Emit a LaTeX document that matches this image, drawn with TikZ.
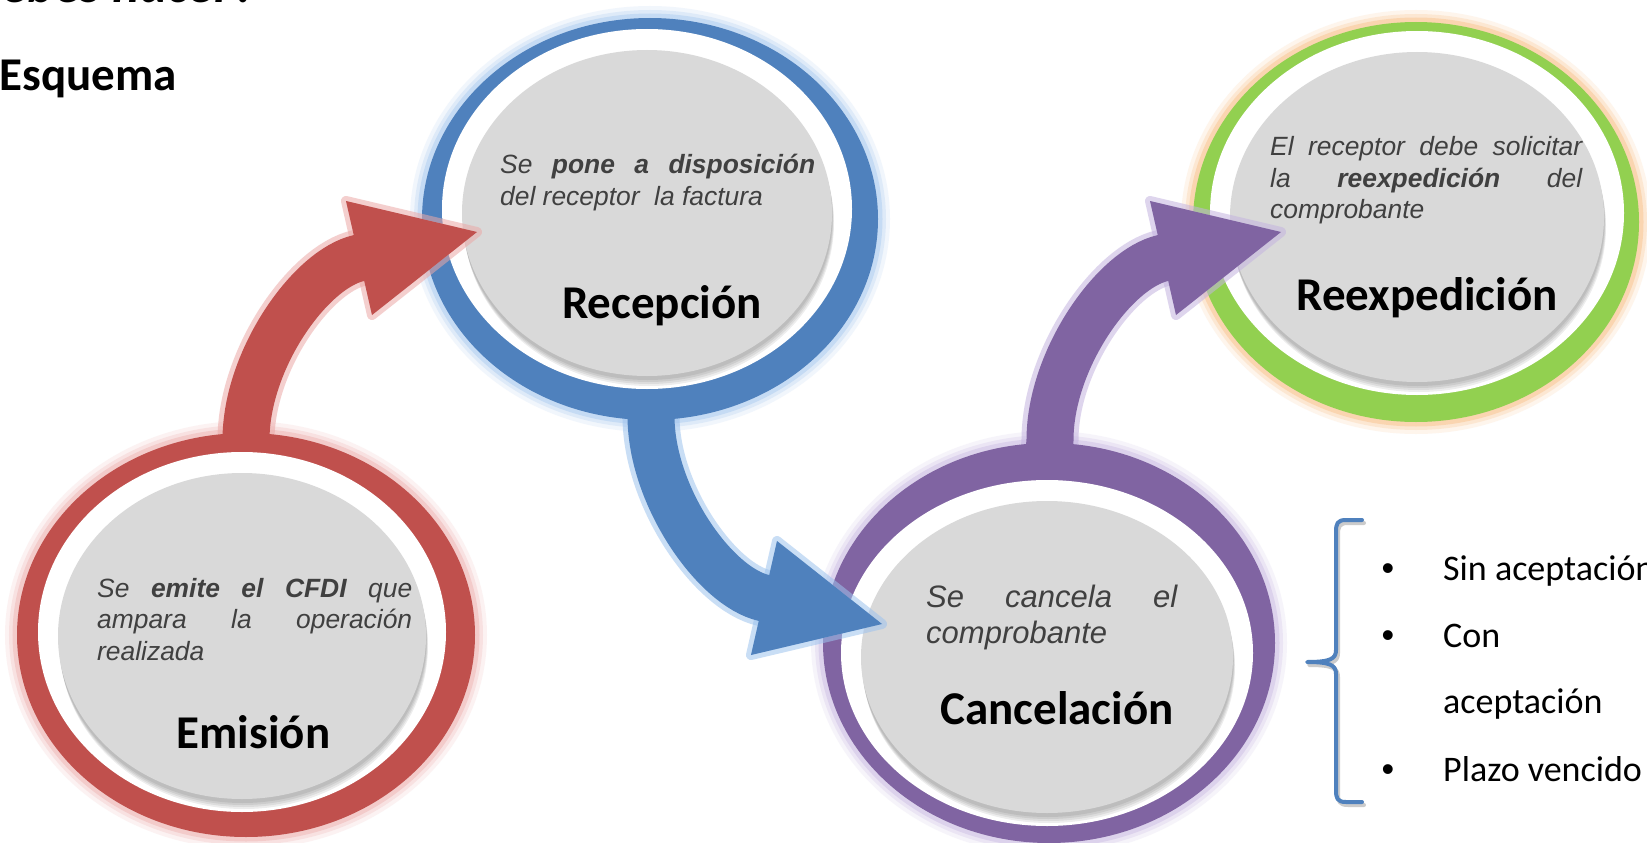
\documentclass[tikz,border=0pt]{standalone}
\usepackage{fontspec}
\usetikzlibrary{shapes.geometric,calc}
\newfontfamily\arialf{Liberation Sans}
\newfontfamily\calib{Carlito}
\definecolor{cred}{HTML}{C0504D}
\definecolor{cblue}{HTML}{4F81BD}
\definecolor{cpurple}{HTML}{8064A2}
\definecolor{cgreen}{HTML}{92D050}
\definecolor{gred}{HTML}{EBA9A7}
\definecolor{gblue}{HTML}{9DC3EE}
\definecolor{gpurple}{HTML}{C4B4E0}
\definecolor{ggreen}{HTML}{F9B97A}
\definecolor{disk}{HTML}{D9D9D9}
\definecolor{txtgray}{HTML}{404040}
\tikzset{
 ringnode/.style={ellipse, inner sep=0pt, outer sep=0pt},
 shaft/.style={line width=47pt},
 shaftglow/.style={line width=57pt, opacity=0.55},
 headglow/.style={line width=10pt, line join=round, opacity=0.55},
 desc/.style={anchor=base west, inner sep=0pt, text=txtgray, font=\arialf\itshape\fontsize{26.4}{31.7}\selectfont},
 descbig/.style={desc, font=\arialf\itshape\fontsize{31}{36}\selectfont},
 ttl/.style={anchor=base, inner sep=0pt, font=\calib\bfseries\fontsize{47}{56}\selectfont},
 listitem/.style={anchor=base west, inner sep=0pt, font=\calib\fontsize{36}{43}\selectfont},
 bul/.style={anchor=base, inner sep=0pt, font=\arialf\fontsize{36}{43}\selectfont},
 bracestyle/.style={line width=4pt, line cap=round, line join=round},
}
\newcommand\glowring[4]{%
 \foreach \gw/\go in {24/0.14,16/0.22,9/0.38}{\draw[#4, line width=\gw pt, opacity=\go] #1 ellipse [x radius=#2pt, y radius=#3pt];}}
\newcommand\ringbody[7]{%
 \fill[#4] #1 ellipse [x radius=#2pt, y radius=#3pt];
 \pgfmathsetmacro\wrx{#6+20}\pgfmathsetmacro\wry{#7+17}%
 \fill[white] ($#5+(0,-4)$) ellipse [x radius={\wrx pt}, y radius={\wry pt}];
 \foreach \sy/\sx in {10/2,8/1.5,6/1,4/0.5}{\fill[black, opacity=0.07] ($#5+(\sx,\sy)$) ellipse [x radius=#6pt, y radius=#7pt];}
 \fill[disk] #5 ellipse [x radius=#6pt, y radius=#7pt];}
\begin{document}
\begin{tikzpicture}[x=1pt,y=-1pt]
\useasboundingbox (0,0) rectangle (1647,843);
\fill[white] (0,0) rectangle (1647,843);
\path (246,635) node[ringnode, minimum width=458pt, minimum height=404pt] (emi) {}
      (650,219) node[ringnode, minimum width=456pt, minimum height=402pt] (rec) {}
      (1049,643) node[ringnode, minimum width=452pt, minimum height=400pt] (can) {}
      (1416,222) node[ringnode, minimum width=446pt, minimum height=400pt] (ree) {};
\coordinate (emiG) at ($(emi.center)+(-4,1)$);
\coordinate (recG) at ($(rec.center)+(-3,-6)$);
\coordinate (canG) at ($(can.center)+(-2,14)$);
\coordinate (reeG) at ($(ree.center)+(1,-5)$);
% Reexpedicion
\glowring{(ree.center)}{223}{200}{ggreen}
\ringbody{(ree.center)}{223}{200}{cgreen}{(reeG)}{187}{165}
% Cancelacion glow
\glowring{(can.center)}{226}{200}{gpurple}
% purple arrow
\coordinate (pP) at (1050,440);
\begin{scope}[shift={(pP)}]
 \coordinate (pC1) at (0,-80); \coordinate (pC2) at (64,-171); \coordinate (pB) at (113,-182);
 \coordinate (pB2) at (116,-182.7);
 \coordinate (pT) at (231,-208); \coordinate (pU) at (100,-239); \coordinate (pL) at (126,-125);
\end{scope}
\draw[gpurple, shaftglow] ($(can.north)+(0,10)$) -- (pP) .. controls (pC1) and (pC2) .. (pB) -- (pB2);
\draw[gpurple, headglow, fill=gpurple] (pU) -- (pT) -- (pL) -- cycle;
\draw[cpurple, shaft] ($(can.north)+(0,10)$) -- (pP) .. controls (pC1) and (pC2) .. (pB) -- (pB2);
\fill[cpurple] (pU) -- (pT) -- (pL) -- cycle;
\ringbody{(can.center)}{226}{200}{cpurple}{(canG)}{186}{156}
% Recepcion glow
\glowring{(rec.center)}{228}{201}{gblue}
% blue arrow
\coordinate (bP) at (651,416);
\begin{scope}[shift={(bP)}, yscale=-1]
 \coordinate (bC1) at (0,-80); \coordinate (bC2) at (64,-171); \coordinate (bB) at (113,-182);
 \coordinate (bB2) at (116,-182.7);
 \coordinate (bT) at (231,-208); \coordinate (bU) at (100,-239); \coordinate (bL) at (126,-125);
\end{scope}
\draw[gblue, shaftglow] ($(rec.south)+(0,-10)$) -- (bP) .. controls (bC1) and (bC2) .. (bB) -- (bB2);
\draw[gblue, headglow, fill=gblue] (bU) -- (bT) -- (bL) -- cycle;
\draw[cblue, shaft] ($(rec.south)+(0,-10)$) -- (bP) .. controls (bC1) and (bC2) .. (bB) -- (bB2);
\fill[cblue] (bU) -- (bT) -- (bL) -- cycle;
\ringbody{(rec.center)}{228}{201}{cblue}{(recG)}{185}{163}
% Emision glow
\glowring{(emi.center)}{229}{202}{gred}
% red arrow
\coordinate (rP) at (246,440);
\begin{scope}[shift={(rP)}]
 \coordinate (rC1) at (0,-80); \coordinate (rC2) at (64,-171); \coordinate (rB) at (113,-182);
 \coordinate (rB2) at (116,-182.7);
 \coordinate (rT) at (231,-208); \coordinate (rU) at (100,-239); \coordinate (rL) at (126,-125);
\end{scope}
\draw[gred, shaftglow] ($(emi.north)+(0,10)$) -- (rP) .. controls (rC1) and (rC2) .. (rB) -- (rB2);
\draw[gred, headglow, fill=gred] (rU) -- (rT) -- (rL) -- cycle;
\draw[cred, shaft] ($(emi.north)+(0,10)$) -- (rP) .. controls (rC1) and (rC2) .. (rB) -- (rB2);
\fill[cred] (rU) -- (rT) -- (rL) -- cycle;
\ringbody{(emi.center)}{229}{202}{cred}{(emiG)}{184}{163}
% descriptions
\node[desc] (emiA) at (97,597) {\makebox[315pt][s]{Se \textbf{emite el CFDI} que}};
\node[desc] (emiB) at (97,628.5) {\makebox[315pt][s]{ampara la operación}};
\node[desc] (emiC) at (97,660) {realizada};
\node[desc] (recA) at (500,173) {\makebox[315pt][s]{Se \textbf{pone a disposición}}};
\node[desc] (recB) at (500,205) {del receptor\ \ la factura};
\node[descbig] (canA) at (926,607) {\makebox[251pt][s]{Se cancela el}};
\node[descbig] (canB) at (926,643) {comprobante};
\node[desc] (reeA) at (1270,155) {\makebox[312pt][s]{El receptor debe solicitar}};
\node[desc] (reeB) at (1270,187) {\makebox[312pt][s]{la \textbf{reexpedición} del}};
\node[desc] (reeC) at (1270,218) {comprobante};
% titles
\node[ttl] (emiT) at (253.5,748) {Emisión};
\node[ttl] (recT) at (662,318) {Recepción};
\node[ttl] (canT) at (1057,724) {Cancelación};
\node[ttl] (reeT) at (1427,310) {Reexpedición};
% headings
\node[anchor=base east, inner sep=0pt, font=\calib\bfseries\fontsize{47}{55}\selectfont] (esq) at (177,91) {Esquema};
\node[anchor=base east, inner sep=0pt, font=\calib\bfseries\itshape\fontsize{52}{60}\selectfont] (top) at (257,3) {debes hacer?};
% brace
\draw[black!45, opacity=0.45, bracestyle, shift={(2,3)}] (1362,520) -- (1346,520) .. controls (1337,520) and (1336,524) .. (1336,532) -- (1336,650) .. controls (1336,659) and (1330,662) .. (1307,662) .. controls (1330,662) and (1336,665) .. (1336,674) -- (1336,790) .. controls (1336,798) and (1337,802) .. (1346,802) -- (1362,802);
\draw[cblue, bracestyle] (1362,520) -- (1346,520) .. controls (1337,520) and (1336,524) .. (1336,532) -- (1336,650) .. controls (1336,659) and (1330,662) .. (1307,662) .. controls (1330,662) and (1336,665) .. (1336,674) -- (1336,790) .. controls (1336,798) and (1337,802) .. (1346,802) -- (1362,802);
% list
\node[bul] (b1) at (1388,580) {•};
\node[bul] (b2) at (1388,647) {•};
\node[bul] (b3) at (1388,781) {•};
\node[listitem] (l1) at (1443,580) {Sin aceptación};
\node[listitem] (l2) at (1443,647) {Con};
\node[listitem] (l3) at (1443,713) {aceptación};
\node[listitem] (l4) at (1443,781) {Plazo vencido};
\end{tikzpicture}
\end{document}
